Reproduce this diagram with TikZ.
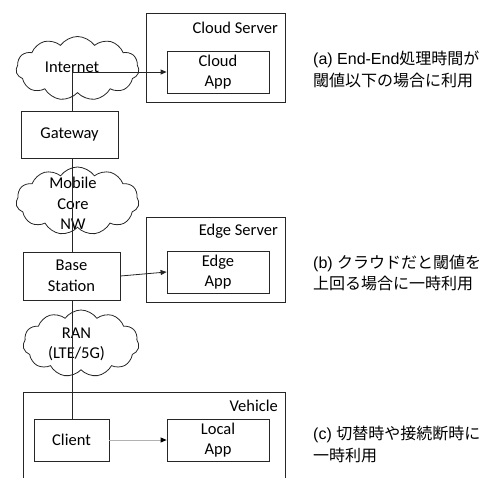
\documentclass[tikz,border=0pt]{standalone}
\usepackage{fontspec}
\setmainfont{Carlito}
\newfontfamily\jpfont{Noto Sans CJK JP}
\newfontfamily\latfont{Liberation Sans}
\usetikzlibrary{shapes.symbols,arrows.meta}
\tikzset{
  box/.style={draw=black!85, line width=0.8pt, inner sep=0pt, align=center,
    font=\fontsize{16.5}{20.5}\selectfont},
  lbl/.style={inner sep=0pt, align=center, font=\fontsize{16.5}{20.5}\selectfont},
  cloudnode/.style={cloud, draw=black!85, line width=0.8pt, cloud puffs=11,
    cloud puff arc=110, aspect=1.9, inner sep=0pt},
  note/.style={inner sep=0pt, align=left, anchor=west,
    font=\jpfont\fontsize{16}{21.5}\selectfont},
  link/.style={draw=black!85, line width=0.8pt},
  arr/.style={link, -{Triangle[length=6pt,width=5pt]}},
}
\begin{document}
\begin{tikzpicture}[x=1pt,y=-1pt]
\useasboundingbox (0,0) rectangle (497,477);
\clip (0,0) rectangle (497,477);
% server boxes
\node[box, minimum width=139pt, minimum height=89pt] (cs) at (215.5,57.5) {};
\node[lbl, anchor=east] (cslbl) at (278,28) {Cloud Server};
\node[box, minimum width=102pt, minimum height=42pt] (capp) at (218,72) {Cloud\\App};
\node[box, minimum width=139pt, minimum height=85pt] (es) at (215.5,259.5) {};
\node[lbl, anchor=east] (eslbl) at (278,231) {Edge Server};
\node[box, minimum width=102pt, minimum height=42pt] (eapp) at (218,272) {Edge\\App};
\node[box, minimum width=262pt, minimum height=120pt, anchor=north west] (veh) at (23,392) {};
\node[lbl, anchor=east] (vehlbl) at (278,406) {Vehicle};
\node[box, minimum width=102pt, minimum height=42pt] (lapp) at (218,440) {Local\\App};
% chain
\node[cloudnode, minimum width=123pt, minimum height=64pt] (inet) at (77.5,68.5) {};
\node[lbl] (inetlbl) at (72,67) {Internet};
\node[box, minimum width=97pt, minimum height=47pt] (gw) at (69.5,134.5) {Gateway};
\node[cloudnode, minimum width=123pt, minimum height=68pt] (core) at (77.5,201) {};
\node[lbl] (corelbl) at (73,203.5) {Mobile\\Core\\NW};
\node[box, minimum width=97pt, minimum height=48pt] (bs) at (71.5,276) {Base\\Station};
\node[cloudnode, minimum width=116pt, minimum height=67pt] (ran) at (81,343.5) {};
\node[lbl] (ranlbl) at (76.5,344.5) {RAN\\(LTE/5G)};
\node[box, minimum width=75pt, minimum height=42pt] (cl) at (71.5,440) {Client};
% connectors
\coordinate (hub) at (72,72);
\draw[link] (hub) -- (hub |- gw.north);
\draw[link] (gw.south -| hub) -- (bs.north -| hub);
\draw[link] (bs.south -| hub) -- (cl.north -| hub);
\draw[arr] (hub) -- (capp.west);
\draw[arr] (bs.east) -- (eapp.west);
\draw[link, draw=black!30, -{Triangle[length=6pt,width=5pt,fill=black,color=black]}] (cl.east) -- (lapp.west);
% notes
\node[note] (na) at (313,69.5) {{\latfont (a) End-End}処理時間が\\閾値以下の場合に利用};
\node[note] (nb) at (313,273) {{\latfont (b) }クラウドだと閾値を\\上回る場合に一時利用};
\node[note] (nc) at (313,444.5) {{\latfont (c) }切替時や接続断時に\\一時利用};
\end{tikzpicture}
\end{document}
